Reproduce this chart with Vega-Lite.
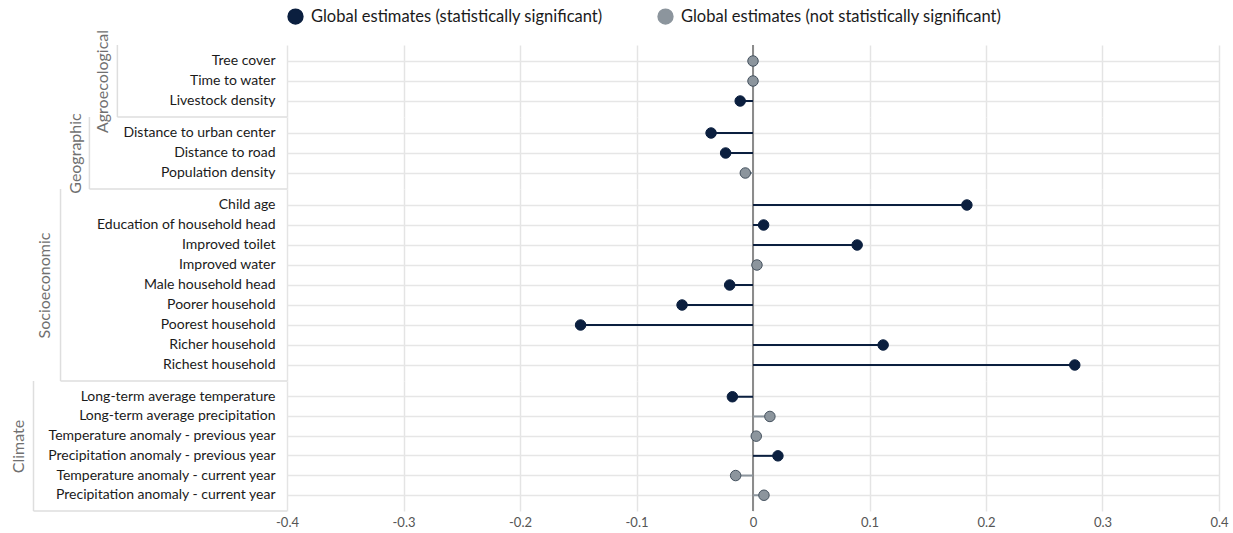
{
  "$schema": "https://vega.github.io/schema/vega-lite/v6.json",
  "padding": {"left": 10, "top": 8, "right": 8, "bottom": 0},
  "spacing": 0,
  "bounds": "flush",
  "datasets": {
    "rows": [
      {"group": "Agroecological", "variable": "Tree cover", "estimate": 0.0, "sig": "Global estimates (not statistically significant)"},
      {"group": "Agroecological", "variable": "Time to water", "estimate": 0.0, "sig": "Global estimates (not statistically significant)"},
      {"group": "Agroecological", "variable": "Livestock density", "estimate": -0.011, "sig": "Global estimates (statistically significant)"},
      {"group": "Geographic", "variable": "Distance to urban center", "estimate": -0.036, "sig": "Global estimates (statistically significant)"},
      {"group": "Geographic", "variable": "Distance to road", "estimate": -0.0235, "sig": "Global estimates (statistically significant)"},
      {"group": "Geographic", "variable": "Population density", "estimate": -0.0066, "sig": "Global estimates (not statistically significant)"},
      {"group": "Socioeconomic", "variable": "Child age", "estimate": 0.1836, "sig": "Global estimates (statistically significant)"},
      {"group": "Socioeconomic", "variable": "Education of household head", "estimate": 0.0091, "sig": "Global estimates (statistically significant)"},
      {"group": "Socioeconomic", "variable": "Improved toilet", "estimate": 0.0894, "sig": "Global estimates (statistically significant)"},
      {"group": "Socioeconomic", "variable": "Improved water", "estimate": 0.0034, "sig": "Global estimates (not statistically significant)"},
      {"group": "Socioeconomic", "variable": "Male household head", "estimate": -0.02, "sig": "Global estimates (statistically significant)"},
      {"group": "Socioeconomic", "variable": "Poorer household", "estimate": -0.0609, "sig": "Global estimates (statistically significant)"},
      {"group": "Socioeconomic", "variable": "Poorest household", "estimate": -0.148, "sig": "Global estimates (statistically significant)"},
      {"group": "Socioeconomic", "variable": "Richer household", "estimate": 0.1117, "sig": "Global estimates (statistically significant)"},
      {"group": "Socioeconomic", "variable": "Richest household", "estimate": 0.2762, "sig": "Global estimates (statistically significant)"},
      {"group": "Climate", "variable": "Long-term average temperature", "estimate": -0.0177, "sig": "Global estimates (statistically significant)"},
      {"group": "Climate", "variable": "Long-term average precipitation", "estimate": 0.0145, "sig": "Global estimates (not statistically significant)"},
      {"group": "Climate", "variable": "Temperature anomaly - previous year", "estimate": 0.0028, "sig": "Global estimates (not statistically significant)"},
      {"group": "Climate", "variable": "Precipitation anomaly - previous year", "estimate": 0.0214, "sig": "Global estimates (statistically significant)"},
      {"group": "Climate", "variable": "Temperature anomaly - current year", "estimate": -0.0149, "sig": "Global estimates (not statistically significant)"},
      {"group": "Climate", "variable": "Precipitation anomaly - current year", "estimate": 0.0094, "sig": "Global estimates (not statistically significant)"}
    ]
  },
  "config": {
    "font": "Lato",
    "view": {"stroke": null},
    "axis": {"domain": false, "ticks": false, "labelFont": "Lato", "titleFont": "Lato", "maxExtent": 500},
    "axisY": {"labelFontSize": 14, "labelColor": "#1a1a1a", "labelPadding": 12, "labelLimit": 400, "titleFontSize": 16, "titleFontWeight": "normal", "titleColor": "#707070", "gridColor": "#e6e6e6", "gridWidth": 1.5, "grid": true},
    "axisX": {"gridColor": "#e4e4e4", "gridWidth": 1.5, "labelFontSize": 13, "labelColor": "#555555", "labelPadding": 5, "grid": true, "labelFlush": false},
    "legend": {"labelFont": "Lato", "labelFontSize": 16.5, "labelColor": "#1a1a1a", "symbolSize": 220, "symbolType": "circle", "columnPadding": 52, "labelOffset": 7, "labelLimit": 500, "orient": "top", "direction": "horizontal", "offset": 2}
  },
  "resolve": {
    "scale": {"y": "independent"}
  },
  "vconcat": [
    {
      "width": 932, "height": 72,
      "layer": [
        {"data": {"values": [{}]}, "mark": {"type": "rule", "color": "#dedede", "strokeWidth": 1.5}, "encoding": {"x": {"datum": -0.5456, "type": "quantitative", "scale": {"domain": [-0.4, 0.4]}, "axis": {"labels": false, "title": null, "values": [-0.4, -0.3, -0.2, -0.1, 0, 0.1, 0.2, 0.3, 0.4], "maxExtent": 0, "minExtent": 0, "labelPadding": 0}}}},
        {"data": {"values": [{}]}, "mark": {"type": "rule", "color": "#dedede", "strokeWidth": 1.5}, "encoding": {"x": {"datum": -0.5456, "type": "quantitative"}, "x2": {"datum": -0.4}, "y": {"value": "height"}}},
        {"data": {"values": [{}]}, "mark": {"type": "rule", "color": "#8c8c8c", "strokeWidth": 2}, "encoding": {"x": {"datum": 0, "type": "quantitative"}}},
        {
          "data": {"name": "rows"},
          "transform": [{"filter": "datum.group == 'Agroecological'"}],
          "encoding": {
            "y": {"field": "variable", "type": "nominal", "sort": null, "scale": {"paddingInner": 0, "paddingOuter": 0.3}, "axis": {"title": "Agroecological", "titlePadding": 58}},
            "x": {"field": "estimate", "type": "quantitative"},
            "color": {"field": "sig", "type": "nominal", "title": null, "scale": {"domain": ["Global estimates (statistically significant)", "Global estimates (not statistically significant)"], "range": ["#0b1f3f", "#8c959d"]}}
          },
          "layer": [
            {"mark": {"type": "rule", "strokeWidth": 2}, "encoding": {"x2": {"datum": 0}}},
            {"mark": {"type": "point", "filled": true, "opacity": 1, "size": 110, "strokeWidth": 1}, "encoding": {
              "stroke": {"condition": {"test": "datum.sig == 'Global estimates (not statistically significant)'", "value": "#45525f"}, "value": "#0b1f3f"}}}
          ]
        }
      ]
    },
    {
      "width": 932, "height": 72,
      "layer": [
        {"data": {"values": [{}]}, "mark": {"type": "rule", "color": "#dedede", "strokeWidth": 1.5}, "encoding": {"x": {"datum": -0.5696, "type": "quantitative", "scale": {"domain": [-0.4, 0.4]}, "axis": {"labels": false, "title": null, "values": [-0.4, -0.3, -0.2, -0.1, 0, 0.1, 0.2, 0.3, 0.4], "maxExtent": 0, "minExtent": 0, "labelPadding": 0}}}},
        {"data": {"values": [{}]}, "mark": {"type": "rule", "color": "#dedede", "strokeWidth": 1.5}, "encoding": {"x": {"datum": -0.5696, "type": "quantitative"}, "x2": {"datum": -0.4}, "y": {"value": "height"}}},
        {"data": {"values": [{}]}, "mark": {"type": "rule", "color": "#8c8c8c", "strokeWidth": 2}, "encoding": {"x": {"datum": 0, "type": "quantitative"}}},
        {
          "data": {"name": "rows"},
          "transform": [{"filter": "datum.group == 'Geographic'"}],
          "encoding": {
            "y": {"field": "variable", "type": "nominal", "sort": null, "scale": {"paddingInner": 0, "paddingOuter": 0.3}, "axis": {"title": "Geographic", "titlePadding": 40}},
            "x": {"field": "estimate", "type": "quantitative"},
            "color": {"field": "sig", "type": "nominal", "title": null, "scale": {"domain": ["Global estimates (statistically significant)", "Global estimates (not statistically significant)"], "range": ["#0b1f3f", "#8c959d"]}}
          },
          "layer": [
            {"mark": {"type": "rule", "strokeWidth": 2}, "encoding": {"x2": {"datum": 0}}},
            {"mark": {"type": "point", "filled": true, "opacity": 1, "size": 110, "strokeWidth": 1}, "encoding": {
              "stroke": {"condition": {"test": "datum.sig == 'Global estimates (not statistically significant)'", "value": "#45525f"}, "value": "#0b1f3f"}}}
          ]
        }
      ]
    },
    {
      "width": 932, "height": 192,
      "layer": [
        {"data": {"values": [{}]}, "mark": {"type": "rule", "color": "#dedede", "strokeWidth": 1.5}, "encoding": {"x": {"datum": -0.5944, "type": "quantitative", "scale": {"domain": [-0.4, 0.4]}, "axis": {"labels": false, "title": null, "values": [-0.4, -0.3, -0.2, -0.1, 0, 0.1, 0.2, 0.3, 0.4], "maxExtent": 0, "minExtent": 0, "labelPadding": 0}}}},
        {"data": {"values": [{}]}, "mark": {"type": "rule", "color": "#dedede", "strokeWidth": 1.5}, "encoding": {"x": {"datum": -0.5944, "type": "quantitative"}, "x2": {"datum": -0.4}, "y": {"value": "height"}}},
        {"data": {"values": [{}]}, "mark": {"type": "rule", "color": "#8c8c8c", "strokeWidth": 2}, "encoding": {"x": {"datum": 0, "type": "quantitative"}}},
        {
          "data": {"name": "rows"},
          "transform": [{"filter": "datum.group == 'Socioeconomic'"}],
          "encoding": {
            "y": {"field": "variable", "type": "nominal", "sort": null, "scale": {"paddingInner": 0, "paddingOuter": 0.3}, "axis": {"title": "Socioeconomic", "titlePadding": 44}},
            "x": {"field": "estimate", "type": "quantitative"},
            "color": {"field": "sig", "type": "nominal", "title": null, "scale": {"domain": ["Global estimates (statistically significant)", "Global estimates (not statistically significant)"], "range": ["#0b1f3f", "#8c959d"]}}
          },
          "layer": [
            {"mark": {"type": "rule", "strokeWidth": 2}, "encoding": {"x2": {"datum": 0}}},
            {"mark": {"type": "point", "filled": true, "opacity": 1, "size": 110, "strokeWidth": 1}, "encoding": {
              "stroke": {"condition": {"test": "datum.sig == 'Global estimates (not statistically significant)'", "value": "#45525f"}, "value": "#0b1f3f"}}}
          ]
        }
      ]
    },
    {
      "width": 932, "height": 130,
      "layer": [
        {"data": {"values": [{}]}, "mark": {"type": "rule", "color": "#dedede", "strokeWidth": 1.5}, "encoding": {"x": {"datum": -0.6176, "type": "quantitative", "scale": {"domain": [-0.4, 0.4]}, "axis": {"title": null, "values": [-0.4, -0.3, -0.2, -0.1, 0, 0.1, 0.2, 0.3, 0.4], "format": ".1~f", "labelExpr": "replace(datum.label, '\u2212', '-')"}}}},
        {"data": {"values": [{}]}, "mark": {"type": "rule", "color": "#dedede", "strokeWidth": 1.5}, "encoding": {"x": {"datum": -0.6176, "type": "quantitative"}, "x2": {"datum": -0.4}, "y": {"value": "height"}}},
        {"data": {"values": [{}]}, "mark": {"type": "rule", "color": "#8c8c8c", "strokeWidth": 2}, "encoding": {"x": {"datum": 0, "type": "quantitative"}}},
        {
          "data": {"name": "rows"},
          "transform": [{"filter": "datum.group == 'Climate'"}],
          "encoding": {
            "y": {"field": "variable", "type": "nominal", "sort": null, "scale": {"paddingInner": 0, "paddingOuter": 0.3}, "axis": {"title": "Climate", "titlePadding": 21}},
            "x": {"field": "estimate", "type": "quantitative"},
            "color": {"field": "sig", "type": "nominal", "title": null, "scale": {"domain": ["Global estimates (statistically significant)", "Global estimates (not statistically significant)"], "range": ["#0b1f3f", "#8c959d"]}}
          },
          "layer": [
            {"mark": {"type": "rule", "strokeWidth": 2}, "encoding": {"x2": {"datum": 0}}},
            {"mark": {"type": "point", "filled": true, "opacity": 1, "size": 110, "strokeWidth": 1}, "encoding": {
              "stroke": {"condition": {"test": "datum.sig == 'Global estimates (not statistically significant)'", "value": "#45525f"}, "value": "#0b1f3f"}}}
          ]
        }
      ]
    }
  ]
}
